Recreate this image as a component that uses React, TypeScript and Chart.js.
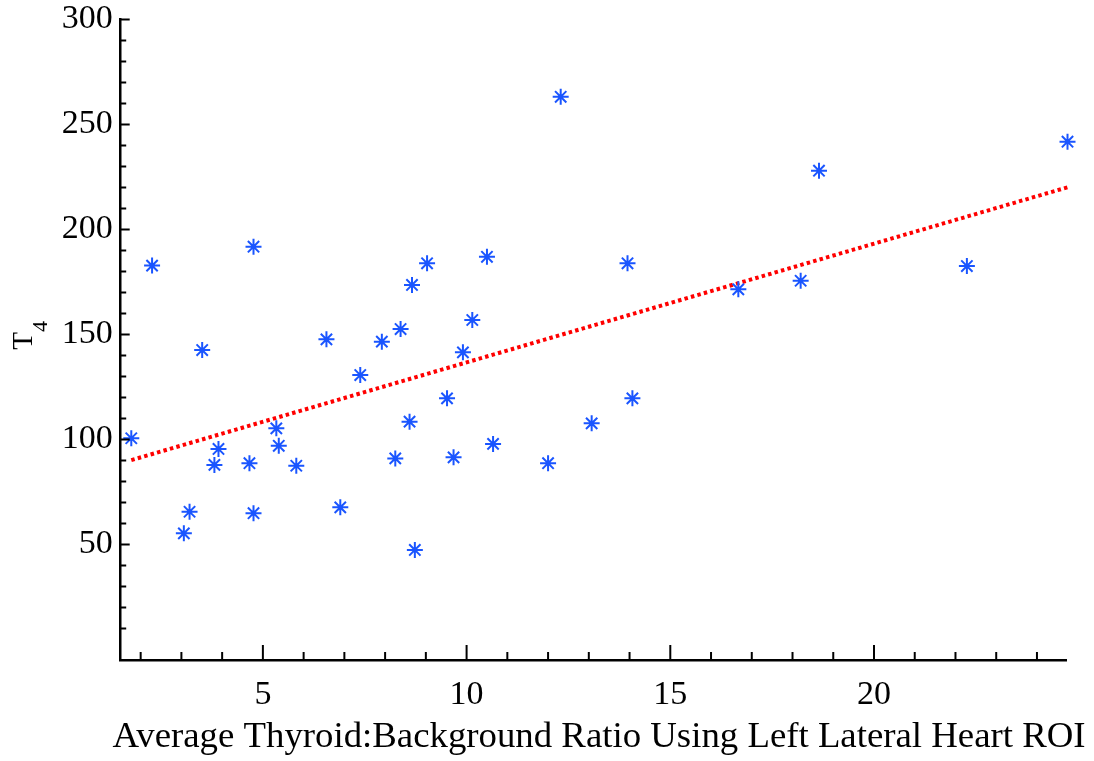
import React, { useEffect, useRef } from 'react';
import { Chart, registerables } from 'chart.js';

Chart.register(...registerables);

// Scatter data
const pointX = [
  2.28, 4.77, 3.51, 1.77, 5.33, 5.39, 3.91, 3.81, 4.67, 5.82, 3.2, 4.77, 3.06,
  9.03, 10.5, 8.66, 10.14, 8.38, 6.56, 7.92, 9.91, 7.39, 9.52, 8.6, 10.65, 8.25, 9.68, 6.9, 8.73,
  12.31, 13.95, 14.07, 13.07, 12.0,
  18.65, 24.75, 16.67, 18.2, 22.28,
];
const pointY = [
  182.8, 191.8, 142.6, 100.6, 105.3, 97.0, 95.5, 87.9, 88.7, 87.5, 65.6, 64.9, 55.3,
  183.9, 187.0, 173.6, 156.9, 152.6, 147.7, 146.6, 141.5, 130.7, 119.6, 108.5, 97.9, 91.0, 91.5, 67.7, 47.4,
  263.2, 183.9, 119.6, 107.7, 88.7,
  228.0, 241.8, 171.5, 175.6, 182.6,
];

// Fitted line end points
const fitX = [1.77, 24.75];
const fitY = [90.2, 220.1];

// Axis ticks
const xMajorTicks = [5, 10, 15, 20];
const xMinorTicks = [2, 3, 4, 6, 7, 8, 9, 11, 12, 13, 14, 16, 17, 18, 19, 21, 22, 23, 24];
const yMajorTicks = [50, 100, 150, 200, 250, 300];
const yMinorTicks = [
  10, 20, 30, 40, 60, 70, 80, 90, 110, 120, 130, 140, 160, 170, 180, 190,
  210, 220, 230, 240, 260, 270, 280, 290,
];

const xTitle = 'Average Thyroid:Background Ratio Using Left Lateral Heart ROI';
const yTitleMain = 'T';
const yTitleSub = '4';

const FONT = "'Liberation Serif', 'Times New Roman', serif";
const BLUE = '#1a55ff';
const RED = '#ff0000';

const tickMarksPlugin = {
  id: 'tickMarks',
  afterDraw(chart: any) {
    const ctx = chart.ctx;
    const xs = chart.scales.x;
    const ys = chart.scales.y;
    const area = chart.chartArea;
    ctx.save();
    ctx.strokeStyle = '#000';
    ctx.lineWidth = 2;
    ctx.lineCap = 'butt';
    const drawX = (vals: number[], len: number) => {
      vals.forEach((v) => {
        const px = xs.getPixelForValue(v);
        ctx.beginPath();
        ctx.moveTo(px, area.bottom);
        ctx.lineTo(px, area.bottom - len);
        ctx.stroke();
      });
    };
    const drawY = (vals: number[], len: number) => {
      vals.forEach((v) => {
        const py = ys.getPixelForValue(v);
        ctx.beginPath();
        ctx.moveTo(area.left, py);
        ctx.lineTo(area.left + len, py);
        ctx.stroke();
      });
    };
    drawX(xMajorTicks, 15);
    drawX(xMinorTicks, 8);
    drawY(yMajorTicks, 9);
    drawY(yMinorTicks, 5.5);

    ctx.fillStyle = '#000';

    // x-axis title
    ctx.save();
    ctx.font = `36.8px ${FONT}`;
    ctx.textAlign = 'center';
    ctx.textBaseline = 'alphabetic';
    ctx.fillText(xTitle, 599, 747);
    ctx.restore();

    // y-axis title with subscript
    ctx.translate(32, (area.top + area.bottom) / 2 + 10);
    ctx.rotate(-Math.PI / 2);
    ctx.textAlign = 'left';
    ctx.textBaseline = 'alphabetic';
    ctx.font = `29px ${FONT}`;
    ctx.fillText(yTitleMain, 0, 0);
    const w = ctx.measureText(yTitleMain).width;
    ctx.font = `22px ${FONT}`;
    ctx.fillText(yTitleSub, w, 15);
    ctx.restore();
  },
};

export default function App() {
  const canvasRef = useRef<HTMLCanvasElement | null>(null);

  useEffect(() => {
    if (!canvasRef.current) return;
    const points = pointX.map((x, i) => ({ x, y: pointY[i] }));
    const fit = fitX.map((x, i) => ({ x, y: fitY[i] }));
    const chart = new Chart(canvasRef.current, {
      type: 'scatter',
      data: {
        datasets: [
          {
            label: 'stars',
            data: points,
            pointStyle: 'star',
            pointRadius: 8,
            pointBorderWidth: 2,
            pointBorderColor: BLUE,
            pointBackgroundColor: BLUE,
            showLine: false,
            clip: false,
          } as any,
          {
            label: 'dots',
            data: points,
            pointStyle: 'circle',
            pointRadius: 2.4,
            pointBorderWidth: 0,
            pointBackgroundColor: BLUE,
            showLine: false,
            clip: false,
          } as any,
          {
            label: 'fit',
            data: fit,
            showLine: true,
            borderColor: RED,
            borderWidth: 4,
            borderDash: [3.5, 3.2],
            borderCapStyle: 'butt',
            pointRadius: 0,
            fill: false,
            clip: false,
          } as any,
        ],
      },
      options: {
        animation: false,
        responsive: true,
        maintainAspectRatio: false,
        layout: { padding: { left: 0, right: 27.3, top: 19.5, bottom: 0 } },
        plugins: {
          legend: { display: false },
          tooltip: { enabled: false },
          title: { display: false },
        },
        scales: {
          x: {
            type: 'linear',
            min: 1.51,
            max: 24.73,
            offset: false,
            grid: { display: false, drawTicks: false },
            border: { display: true, color: '#000', width: 2.5 },
            afterBuildTicks: (scale: any) => {
              scale.ticks = xMajorTicks.map((v) => ({ value: v }));
            },
            afterFit: (scale: any) => {
              scale.height = 101;
              scale.paddingLeft = 0;
              scale.paddingRight = 0;
            },
            ticks: {
              color: '#000',
              font: { family: FONT, size: 34 },
              padding: 15,
              maxRotation: 0,
              autoSkip: false,
            },
            title: { display: false },
          },
          y: {
            type: 'linear',
            min: -5,
            max: 300,
            offset: false,
            grid: { display: false, drawTicks: false },
            border: { display: true, color: '#000', width: 2.5 },
            afterBuildTicks: (scale: any) => {
              scale.ticks = yMajorTicks.map((v) => ({ value: v }));
            },
            afterFit: (scale: any) => {
              scale.width = 120.7;
              scale.paddingTop = 0;
              scale.paddingBottom = 0;
            },
            ticks: {
              color: '#000',
              font: { family: FONT, size: 34 },
              padding: 8,
              autoSkip: false,
            },
            title: { display: false },
          },
        },
      } as any,
      plugins: [tickMarksPlugin],
    });
    return () => chart.destroy();
  }, []);

  return (
    <div style={{ position: 'absolute', left: 0, top: 0, width: 1094, height: 761, background: '#fff' }}>
      <canvas ref={canvasRef} />
    </div>
  );
}
